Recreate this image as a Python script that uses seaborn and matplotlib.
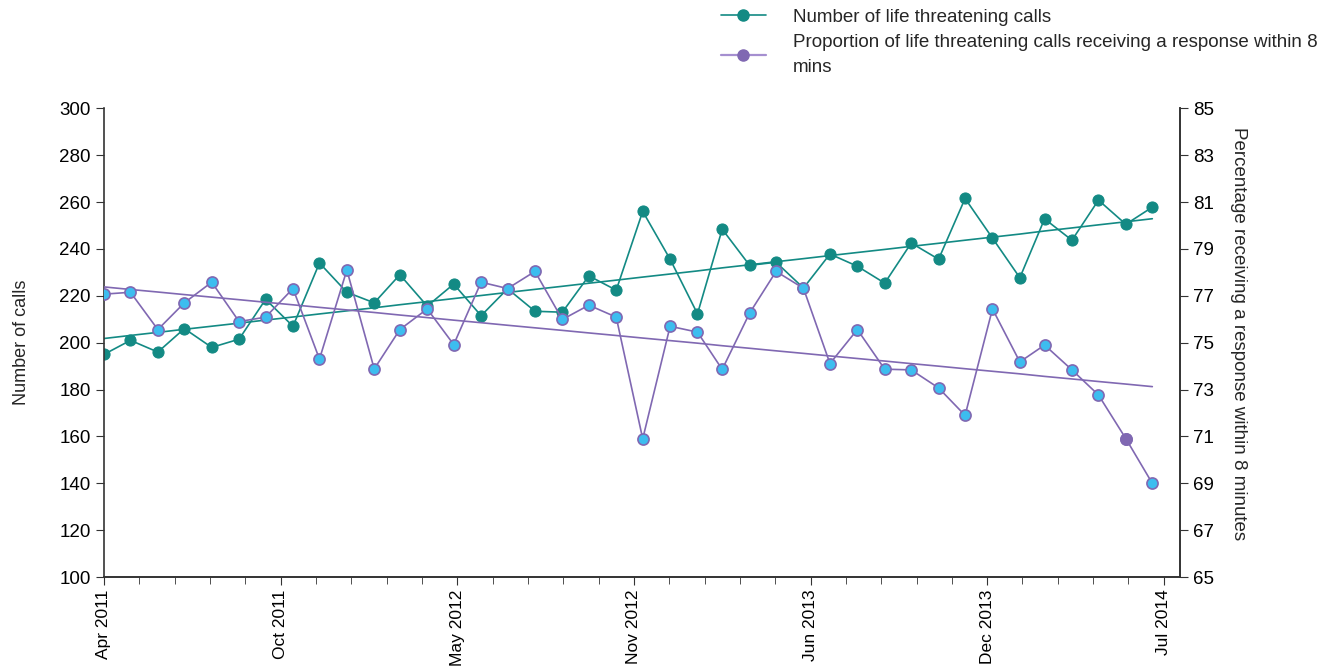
import numpy as np
import pandas as pd
import matplotlib
matplotlib.use("Agg")
import matplotlib.pyplot as plt
import matplotlib.dates as mdates
from matplotlib.lines import Line2D
import seaborn as sns

# monthly values, Apr 2011 - Jul 2014
months = pd.date_range("2011-04-01", "2014-07-01", freq="MS")
calls = [195, 201, 196, 206, 198, 201.5, 218.5, 207, 234, 221.5,
         217, 229, 215.6, 225, 211.5, 223, 213.4, 213, 228.5, 222.4,
         256, 235.6, 212.3, 248.4, 233, 234.3, 223.3, 237.8, 232.6, 225.4,
         242.5, 235.6, 261.5, 244.6, 227.7, 252.8, 243.7, 260.8, 250.5, 257.8]
pct = [77.07, 77.15, 75.56, 76.7, 77.58, 75.9, 76.09, 77.31, 74.3, 78.1,
       73.88, 75.56, 76.44, 74.92, 77.58, 77.31, 78.04, 75.99, 76.6, 76.09,
       70.9, 75.7, 75.45, 73.86, 76.26, 78.04, 77.32, 74.11, 75.56, 73.87,
       73.84, 73.07, 71.9, 76.44, 74.18, 74.9, 73.84, 72.77, 70.91, 69.0]
# the one month shown with a purple marker in the original
highlight = ["2014-06-01"]

calls_label = "Number of life threatening calls"
pct_label = "Proportion of life threatening calls receiving a response within 8\nmins"

teal = "#138a84"
purple = "#8068b2"
blue = "#3dbdef"

df = pd.DataFrame({"month": months, "calls": calls, "pct": pct})
t = np.arange(len(df))
df["calls_trend"] = np.polyval(np.polyfit(t, df["calls"], 1), t)
df["pct_trend"] = np.polyval(np.polyfit(t, df["pct"], 1), t)

sns.set_style("ticks")
plt.rcParams["font.family"] = ["Liberation Sans", "DejaVu Sans"]

fig = plt.figure(figsize=(13.33, 6.68), dpi=100)
ax = fig.add_axes([0.078, 0.136, 0.807, 0.702])
ax2 = ax.twinx()

# calls on left axis
sns.lineplot(data=df, x="month", y="calls_trend", ax=ax, color=teal, lw=1.2)
sns.lineplot(data=df, x="month", y="calls", ax=ax, color=teal, lw=1.2,
             marker="o", markersize=8, markerfacecolor=teal, markeredgecolor=teal)

# percentage on right axis
sns.lineplot(data=df, x="month", y="pct_trend", ax=ax2, color=purple, lw=1.2)
sns.lineplot(data=df, x="month", y="pct", ax=ax2, color=purple, lw=1.2,
             marker="o", markersize=8, markerfacecolor=blue, markeredgecolor=purple,
             markeredgewidth=1.2)
hl = df[df["month"].isin(pd.to_datetime(highlight))]
sns.scatterplot(data=hl, x="month", y="pct", ax=ax2, color=purple, s=64,
                edgecolor=purple, linewidth=1.2, zorder=5)

ax.set_ylim(100, 300)
ax.set_yticks(np.arange(100, 301, 20))
ax2.set_ylim(65, 85)
ax2.set_yticks(np.arange(65, 86, 2))

start = pd.Timestamp("2011-04-01")
ax.set_xlim(start, pd.Timestamp("2014-08-01"))
major = [start + pd.Timedelta(days=200 * k) for k in range(7)]
minor = [start + pd.Timedelta(days=40 * k) for k in range(31)]
ax.set_xticks(major)
ax.set_xticks(minor, minor=True)
ax.xaxis.set_major_formatter(mdates.DateFormatter("%b %Y"))

for a in (ax, ax2):
    a.spines["top"].set_visible(False)
    for s in a.spines.values():
        s.set_color("#333333")
        s.set_linewidth(1.2)
    a.tick_params(axis="both", which="both", labelsize=13.5, colors="#333333",
                  labelcolor="black")
    a.tick_params(which="major", length=6)
    a.tick_params(which="minor", length=5)
ax.tick_params(axis="x", labelsize=12.5, pad=3, labelrotation=90)
ax2.spines["left"].set_visible(False)
ax2.spines["right"].set_visible(True)

ax.set_xlabel("")
ax.set_ylabel("Number of calls", fontsize=13, labelpad=21)
ax2.set_ylabel("Percentage receiving a response within 8 minutes", fontsize=13.5,
               rotation=-90, labelpad=30)
ax2.yaxis.set_label_coords(1.063, 0.52)

handles = [
    Line2D([], [], color=teal, lw=1.2, marker="o", markersize=8,
           markerfacecolor=teal, markeredgecolor=teal),
    Line2D([], [], color="#a58fd0", lw=1.6, marker="o", markersize=8,
           markerfacecolor=purple, markeredgecolor=purple),
]
leg = fig.legend(handles, [calls_label, pct_label], loc="upper left",
                 bbox_to_anchor=(0.528, 1.012), frameon=False, fontsize=13.5,
                 handlelength=2.4, handletextpad=1.45, labelspacing=0.45)
for txt in leg.get_texts():
    txt.set_linespacing(1.6)

fig.savefig("out.png", dpi=100)
